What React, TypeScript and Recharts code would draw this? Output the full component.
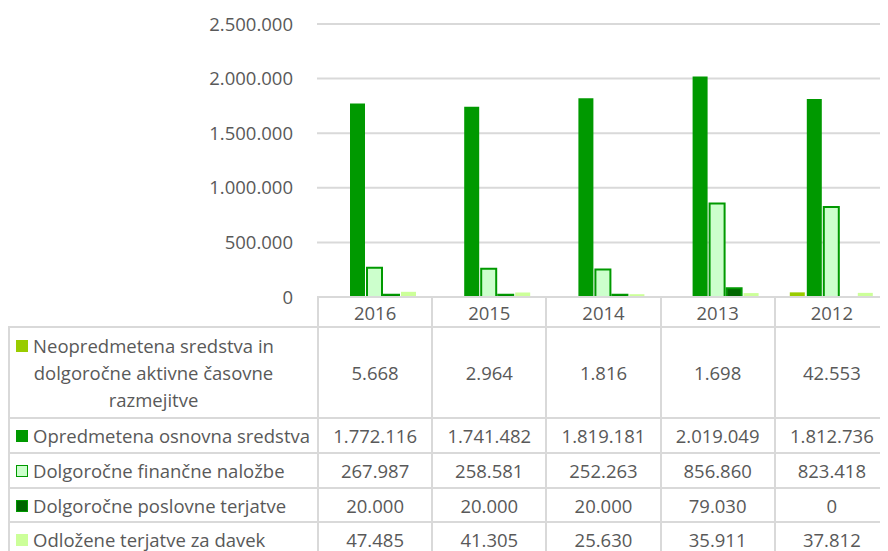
import React from "react";
import { BarChart, Bar, XAxis, YAxis, CartesianGrid } from "recharts";

const years = ["2016", "2015", "2014", "2013", "2012"];
const neopredmetena = [5668, 2964, 1816, 1698, 42553];
const opredmetena = [1772116, 1741482, 1819181, 2019049, 1812736];
const financne = [267987, 258581, 252263, 856860, 823418];
const poslovne = [20000, 20000, 20000, 79030, 0];
const odlozene = [47485, 41305, 25630, 35911, 37812];
const yTicks = [0, 500000, 1000000, 1500000, 2000000, 2500000];

const series = [
    { key: "neo", name: "Neopredmetena sredstva in dolgoročne aktivne časovne razmejitve", values: neopredmetena, fill: "#99CC00", stroke: "none" },
    { key: "opr", name: "Opredmetena osnovna sredstva", values: opredmetena, fill: "#009900", stroke: "none" },
    { key: "fin", name: "Dolgoročne finančne naložbe", values: financne, fill: "#CCFFCC", stroke: "#009900" },
    { key: "pos", name: "Dolgoročne poslovne terjatve", values: poslovne, fill: "#006600", stroke: "#009900" },
    { key: "odl", name: "Odložene terjatve za davek", values: odlozene, fill: "#CCFF99", stroke: "none" },
];

const data = years.map((y, i) => {
    const row: Record<string, string | number> = { year: y };
    series.forEach((s) => (row[s.key] = s.values[i]));
    return row;
});

const fmt = (v: number) => v.toLocaleString("de-DE");

const FONT = "'Open Sans', sans-serif";
const FS = 18.5;
const TEXT = "#595959";
const LINE = "2px solid #d9d9d9";
const PLOT_LEFT = 309;
const COL_W = (880 - PLOT_LEFT) / years.length;
const rowHeights = [91, 35, 35, 34, 35];

export default function App() {
    return (
        <div style={{ position: "relative", width: 880, height: 543, fontFamily: FONT, overflow: "hidden" }}>
            <BarChart
                width={880}
                height={305}
                data={data}
                margin={{ top: 16, right: 0, left: 0, bottom: 16 }}
                barSize={15}
                barGap={2}
            >
                <CartesianGrid vertical={false} stroke="#d9d9d9" strokeWidth={2} />
                <XAxis dataKey="year" hide />
                <YAxis
                    width={PLOT_LEFT}
                    domain={[0, 2500000]}
                    ticks={yTicks}
                    axisLine={false}
                    tickLine={false}
                    tickMargin={18}
                    tickFormatter={(v) => fmt(v)}
                    tick={{ fontSize: FS, fill: TEXT, fontFamily: FONT }}
                />
                {series.map((s) => (
                    <Bar
                        key={s.key}
                        dataKey={s.key}
                        name={s.name}
                        fill={s.fill}
                        stroke={s.stroke}
                        strokeWidth={s.stroke === "none" ? 0 : 2}
                        isAnimationActive={false}
                    />
                ))}
            </BarChart>
            <table
                style={{
                    position: "absolute",
                    top: 288,
                    left: 0,
                    borderCollapse: "collapse",
                    tableLayout: "fixed",
                    width: 880,
                    color: TEXT,
                    fontSize: FS,
                    fontFamily: FONT,
                }}
            >
                <colgroup>
                    <col style={{ width: PLOT_LEFT }} />
                    {years.map((y) => (
                        <col key={y} style={{ width: COL_W }} />
                    ))}
                </colgroup>
                <tbody>
                    <tr style={{ height: 30 }}>
                        <td style={{ borderRight: LINE, borderBottom: LINE, padding: 0 }} />
                        {years.map((y) => (
                            <td key={y} style={{ border: LINE, textAlign: "center", padding: 0 }}>
                                {y}
                            </td>
                        ))}
                    </tr>
                    {series.map((s, r) => (
                        <tr key={s.key} style={{ height: rowHeights[r] }}>
                            <td style={{ border: LINE, padding: "0 0 0 6px" }}>
                                <div style={{ display: "flex", alignItems: "flex-start" }}>
                                    <span
                                        style={{
                                            flex: "none",
                                            width: s.stroke === "none" ? 12 : 10,
                                            height: s.stroke === "none" ? 12 : 10,
                                            marginTop: 8,
                                            marginRight: 5,
                                            background: s.fill,
                                            border: s.stroke === "none" ? "none" : `1px solid ${s.stroke}`,
                                        }}
                                    />
                                    <span
                                        style={{
                                            textAlign: "center",
                                            lineHeight: "27px",
                                            whiteSpace: r === 0 ? "normal" : "nowrap",
                                            maxWidth: r === 0 ? 241 : undefined,
                                        }}
                                    >
                                        {s.name}
                                    </span>
                                </div>
                            </td>
                            {s.values.map((v, i) => (
                                <td key={i} style={{ border: LINE, textAlign: "center", padding: 0 }}>
                                    {fmt(v)}
                                </td>
                            ))}
                        </tr>
                    ))}
                </tbody>
            </table>
        </div>
    );
}
